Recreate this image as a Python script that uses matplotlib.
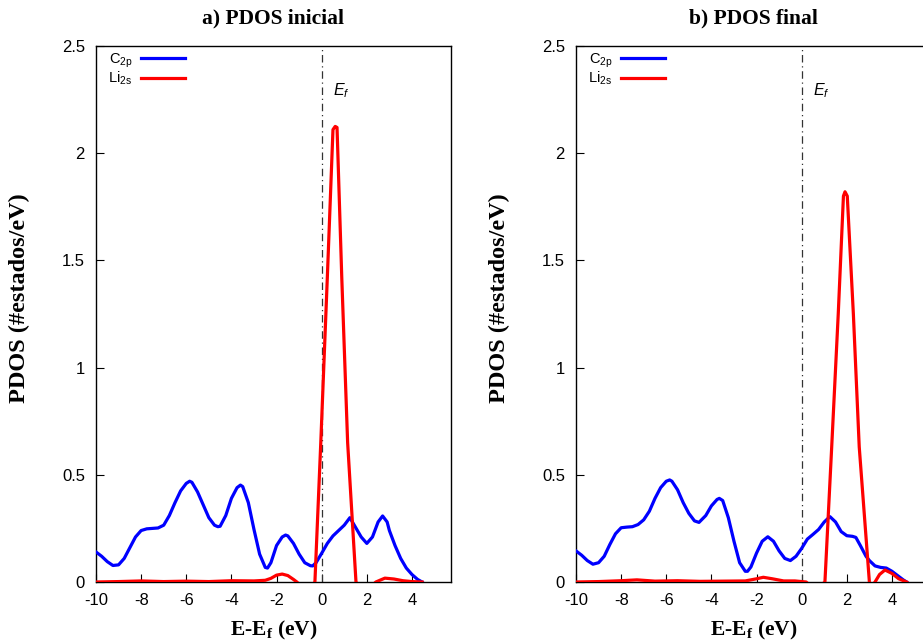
import matplotlib
matplotlib.use("Agg")
import matplotlib.pyplot as plt

plt.rcParams["font.family"] = "Liberation Sans"
plt.rcParams["axes.unicode_minus"] = False
plt.rcParams["mathtext.fontset"] = "custom"
plt.rcParams["mathtext.rm"] = "Liberation Sans"
plt.rcParams["mathtext.it"] = "Liberation Sans:italic"
plt.rcParams["mathtext.bf"] = "Liberation Serif:bold"

# ---- data ----
# a) PDOS inicial, C 2p
e_c_ini = [-10, -9.75, -9.5, -9.25, -9.0, -8.75, -8.5, -8.25, -8.0, -7.75, -7.5, -7.25,
           -7.0, -6.75, -6.5, -6.25, -6.0, -5.85, -5.75, -5.5, -5.25, -5.0, -4.75, -4.6,
           -4.5, -4.25, -4.0, -3.75, -3.6, -3.5, -3.25, -3.0, -2.75, -2.5, -2.4, -2.25,
           -2.0, -1.75, -1.6, -1.5, -1.25, -1.0, -0.75, -0.5, -0.4, -0.25, 0.0, 0.25,
           0.5, 0.75, 1.0, 1.25, 1.5, 1.75, 2.0, 2.25, 2.5, 2.7, 2.9, 3.0, 3.25, 3.5,
           3.75, 4.0, 4.25, 4.45]
c_ini = [0.14, 0.12, 0.095, 0.077, 0.08, 0.11, 0.16, 0.21, 0.24, 0.248, 0.25, 0.252,
         0.265, 0.31, 0.37, 0.425, 0.46, 0.47, 0.465, 0.42, 0.36, 0.30, 0.265, 0.258,
         0.26, 0.31, 0.39, 0.44, 0.452, 0.445, 0.37, 0.245, 0.13, 0.068, 0.065, 0.09,
         0.17, 0.21, 0.219, 0.215, 0.18, 0.13, 0.09, 0.076, 0.075, 0.09, 0.134, 0.18,
         0.215, 0.24, 0.265, 0.30, 0.255, 0.21, 0.18, 0.21, 0.28, 0.308, 0.28, 0.24,
         0.17, 0.11, 0.065, 0.035, 0.012, 0.0]

# a) PDOS inicial, Li 2s
e_li_ini = [-10, -9, -8, -7, -6, -5, -4, -3, -2.5, -2.25, -2.0, -1.75, -1.5, -1.25,
            -1.1, -0.9, -0.6, -0.45, -0.3, -0.04, 0.25, 0.5, 0.6, 0.68, 0.89, 1.15,
            1.52, 1.8, 2.1, 2.4, 2.8, 3.2, 3.6, 4.0, 4.45]
li_ini = [0.0, 0.002, 0.005, 0.002, 0.004, 0.002, 0.006, 0.005, 0.008, 0.017, 0.032,
          0.037, 0.03, 0.012, 0.0, -0.02, -0.03, -0.02, 0.0, 0.65, 1.42, 2.11, 2.125,
          2.12, 1.42, 0.65, 0.0, -0.04, -0.03, 0.0, 0.018, 0.014, 0.006, 0.002, 0.0]

# b) PDOS final, C 2p
e_c_fin = [-10, -9.75, -9.5, -9.25, -9.0, -8.75, -8.5, -8.25, -8.0, -7.75, -7.5, -7.25,
           -7.0, -6.75, -6.5, -6.25, -6.0, -5.85, -5.75, -5.5, -5.25, -5.0, -4.75, -4.55,
           -4.25, -4.0, -3.75, -3.65, -3.5, -3.25, -3.0, -2.75, -2.5, -2.4, -2.25, -2.0,
           -1.75, -1.5, -1.25, -1.0, -0.75, -0.5, -0.25, 0.0, 0.25, 0.5, 0.75, 1.0,
           1.25, 1.5, 1.75, 2.0, 2.25, 2.4, 2.6, 2.85, 3.0, 3.25, 3.5, 3.75, 4.0, 4.25,
           4.5, 4.65]
c_fin = [0.145, 0.125, 0.10, 0.083, 0.09, 0.12, 0.175, 0.225, 0.253, 0.256, 0.258, 0.268,
         0.29, 0.33, 0.39, 0.44, 0.47, 0.476, 0.47, 0.43, 0.37, 0.32, 0.285, 0.278,
         0.31, 0.355, 0.385, 0.39, 0.38, 0.30, 0.19, 0.09, 0.05, 0.05, 0.07, 0.135,
         0.19, 0.211, 0.19, 0.145, 0.11, 0.10, 0.12, 0.157, 0.2, 0.222, 0.245, 0.28,
         0.305, 0.28, 0.235, 0.216, 0.213, 0.208, 0.17, 0.12, 0.1, 0.075, 0.068, 0.065,
         0.05, 0.03, 0.01, 0.0]

# b) PDOS final, Li 2s
e_li_fin = [-10, -9, -8, -7.3, -6.5, -5.5, -4.5, -3.5, -2.5, -2.0, -1.7, -1.3, -0.8,
            -0.3, 0.2, 0.5, 0.8, 1.03, 1.33, 1.62, 1.85, 1.92, 2.02, 2.29, 2.55, 3.0,
            3.1, 3.25, 3.45, 3.69, 4.0, 4.3, 4.65]
li_fin = [0.0, 0.002, 0.006, 0.01, 0.004, 0.006, 0.003, 0.004, 0.005, 0.015, 0.022,
          0.015, 0.005, 0.005, 0.0, -0.03, -0.02, 0.0, 0.63, 1.25, 1.8, 1.82, 1.80,
          1.25, 0.63, 0.0, -0.02, 0.0, 0.035, 0.056, 0.04, 0.015, 0.0]

panels = [
    ("a) PDOS inicial", e_c_ini, c_ini, e_li_ini, li_ini),
    ("b) PDOS final", e_c_fin, c_fin, e_li_fin, li_fin),
]

fig = plt.figure(figsize=(9.23, 6.43), dpi=100)
lefts = [96 / 923, 576 / 923]

for left, (title, ec, c, el, li) in zip(lefts, panels):
    ax = fig.add_axes([left, 1 - 582 / 643, 355 / 923, 536 / 643])

    ax.plot(ec, c, color="blue", lw=2.3, label=r"C$_\mathrm{2p}$", zorder=3,
            solid_joinstyle="round")
    ax.plot(el, li, color="red", lw=2.3, label=r"Li$_\mathrm{2s}$", zorder=3,
            solid_joinstyle="round")
    ax.axvline(0, color="#333333", lw=0.9, dashes=(6, 3, 1, 3), zorder=2)
    ax.text(0.5, 2.29, r"$E_f$", fontsize=11.5, ha="left", va="center")

    ax.set_xlim(-10, 5.73)
    ax.set_ylim(0, 2.5)
    ax.set_xticks([-10, -8, -6, -4, -2, 0, 2, 4])
    ax.set_yticks([0, 0.5, 1, 1.5, 2, 2.5])
    ax.set_yticklabels(["0", "0.5", "1", "1.5", "2", "2.5"])
    ax.tick_params(direction="in", length=6, width=0.8, labelsize=12, pad=8,
                   top=False, right=False)
    for s in ax.spines.values():
        s.set_linewidth(1.0)

    ax.text(0.5, 1.052, title, transform=ax.transAxes, ha="center", va="center",
            family="Liberation Serif", weight="bold", fontsize=15.5)
    ax.set_xlabel(r"E-E$_\mathbf{f}$ (eV)", family="Liberation Serif",
                  weight="bold", fontsize=15.5)
    ax.xaxis.set_label_coords(0.5, -0.069)
    ax.set_ylabel("PDOS (#estados/eV)", family="Liberation Serif",
                  weight="bold", fontsize=17.5)
    ax.yaxis.set_label_coords(-0.185, 0.53)

    ax.legend(loc="upper left", bbox_to_anchor=(0.035, 0.99), frameon=False,
              markerfirst=False, fontsize=10.5, handlelength=3.0,
              handletextpad=0.6, labelspacing=0.0, borderpad=0.0,
              borderaxespad=0.0)

fig.savefig("out.png", dpi=100)
